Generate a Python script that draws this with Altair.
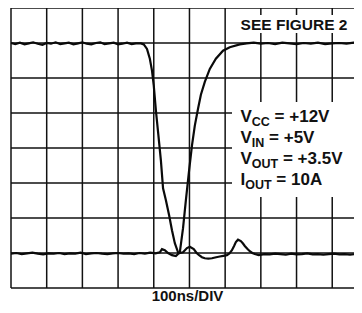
import altair as alt
import pandas as pd

# ---- data (time in ns, 100 ns/div; amplitude in screen divisions, 0..8) ----
grid_t = [0, 100, 200, 300, 400, 500, 600, 700, 800, 900]
grid_v = [0, 1, 2, 3, 4, 5, 6, 7, 8]

# trace falling (high -> low, rings at bottom)
fall_t = [0, 12, 25, 38, 50, 62, 75, 88, 100, 112, 125, 138, 150, 162, 175, 188,
          200, 212, 225, 238, 250, 262, 275, 288, 300, 312, 325, 338, 350, 364,
          372, 381, 389, 395, 400, 406, 413, 420, 426, 434, 443, 451, 459, 468,
          472, 482, 493, 501, 512, 520, 527, 535, 543, 553, 563, 575, 585, 595,
          605, 612, 619, 625, 630, 636, 644, 650, 655, 662, 669, 676, 683, 694,
          710, 725, 740, 755, 770, 785, 800, 815, 830, 845, 860, 875, 890, 905,
          920, 935, 950, 965, 983]
fall_v = [7.00, 6.97, 7.01, 6.96, 6.99, 7.02, 6.98, 6.95, 7.00, 6.98, 7.02, 6.97,
          6.99, 7.01, 6.96, 6.99, 7.02, 6.98, 6.96, 7.00, 7.02, 6.97, 6.99, 7.01,
          6.96, 6.98, 7.01, 6.97, 6.99, 6.99,
          6.96, 6.83, 6.55, 6.21, 5.78, 5.07, 4.36, 3.64, 2.85, 2.51, 2.08, 1.65,
          1.28, 1.02,
          1.00, 1.02, 1.14, 1.18, 1.11, 1.00, 0.94, 0.88, 0.85, 0.84, 0.85, 0.88,
          0.90, 0.92, 0.94, 0.99, 1.08, 1.20, 1.31, 1.38, 1.34, 1.27, 1.20, 1.12,
          1.05, 1.00, 0.97, 0.94,
          0.97, 0.96, 0.98, 0.97, 0.95, 0.98, 0.96, 0.97, 0.99, 0.96, 0.97, 0.95,
          0.97, 0.98, 0.96, 0.97, 0.95, 0.97, 0.96]

# trace rising (low -> high)
rise_t = [0, 15, 30, 45, 60, 75, 90, 105, 120, 135, 150, 165, 180, 195, 210, 225,
          240, 255, 270, 285, 300, 315, 330, 345, 360, 375, 390, 405, 417,
          423, 431, 440, 451, 462, 468, 473, 482, 490, 499, 507, 515, 524, 532,
          543, 557, 574, 594, 613, 641,
          660, 680, 700, 720, 740, 760, 780, 800, 820, 840, 860, 880, 900, 920,
          940, 960, 983]
rise_v = [0.98, 1.00, 0.97, 0.99, 1.01, 0.98, 0.96, 0.99, 0.98, 1.00, 0.97, 0.99,
          0.98, 1.01, 0.97, 0.99, 1.00, 0.98, 0.97, 0.99, 1.00, 0.98, 0.99, 0.97,
          1.00, 0.98, 1.01, 0.99, 1.02,
          1.11, 1.08, 1.00, 0.94, 0.91, 0.97, 1.02, 1.71, 2.51, 3.36, 4.07, 4.64,
          5.12, 5.52, 5.89, 6.26, 6.55, 6.78, 6.88, 6.96,
          6.99, 7.01, 6.98, 7.00, 6.97, 7.01, 6.99, 6.97, 7.00, 6.98, 7.01, 6.97,
          6.99, 7.00, 6.98, 7.01, 6.98]

note_main = ["V", "V", "V", "I"]
note_sub = ["CC", "IN", "OUT", "OUT"]
note_rest = ["= +12V", "= +5V", "= +3.5V", "= 10A"]
see_label = "SEE FIGURE 2"
x_title = "100ns/DIV"

# ---- chart ----
W, H = 343, 280           # plot area: 35.7 px per 100 ns, 35 px per division
FONT = "Liberation Sans"
INK = "#111111"
xs = alt.Scale(domain=[0, 961], nice=False, zero=False)
ys = alt.Scale(domain=[0, 8], nice=False, zero=False)

gx = alt.Chart(pd.DataFrame({"t": grid_t})).mark_rule(color=INK, strokeWidth=1.5).encode(
    x=alt.X("t:Q", scale=xs, axis=None))
gy = alt.Chart(pd.DataFrame({"v": grid_v})).mark_rule(color=INK, strokeWidth=1.5).encode(
    y=alt.Y("v:Q", scale=ys, axis=None))

one = pd.DataFrame({"k": [0]})
box1 = alt.Chart(one).mark_rect(color="white").encode(
    x=alt.value(226), x2=alt.value(341), y=alt.value(7), y2=alt.value(25))
box2 = alt.Chart(one).mark_rect(color="white").encode(
    x=alt.value(221), x2=alt.value(346), y=alt.value(94), y2=alt.value(189))

df_fall = pd.DataFrame({"t": fall_t, "v": fall_v})
df_rise = pd.DataFrame({"t": rise_t, "v": rise_v})
l_fall = alt.Chart(df_fall).mark_line(color="#0a0a0a", strokeWidth=2.2, interpolate="linear").encode(
    x=alt.X("t:Q", scale=xs, axis=None), y=alt.Y("v:Q", scale=ys, axis=None), order="t:Q")
l_rise = alt.Chart(df_rise).mark_line(color="#0a0a0a", strokeWidth=2.2, interpolate="linear").encode(
    x=alt.X("t:Q", scale=xs, axis=None), y=alt.Y("v:Q", scale=ys, axis=None), order="t:Q")

# text width estimates (Arial/Liberation bold advance widths, em)
AW = {"V": .667, "I": .278, "C": .722, "N": .722, "O": .778, "U": .722, "T": .611}
MAIN, SUB = 17, 12.5
X0 = 229.5
Y0, DY = 113.7, 21

texts = []
for i in range(4):
    yb = Y0 + DY * i
    xm = X0
    xsb = xm + sum(AW[c] for c in note_main[i]) * MAIN
    xr = xsb + sum(AW[c] for c in note_sub[i]) * SUB + 0.278 * MAIN
    texts.append(alt.Chart(one).mark_text(text=note_main[i], font=FONT, fontSize=MAIN, fontWeight="bold",
                                          align="left", baseline="alphabetic", color=INK).encode(
        x=alt.value(xm), y=alt.value(yb)))
    texts.append(alt.Chart(one).mark_text(text=note_sub[i], font=FONT, fontSize=SUB, fontWeight="bold",
                                          align="left", baseline="alphabetic", color=INK).encode(
        x=alt.value(xsb), y=alt.value(yb + 3.8)))
    texts.append(alt.Chart(one).mark_text(text=note_rest[i], font=FONT, fontSize=MAIN, fontWeight="bold",
                                          align="left", baseline="alphabetic", color=INK).encode(
        x=alt.value(xr), y=alt.value(yb)))

see = alt.Chart(one).mark_text(text=see_label, font=FONT, fontSize=15.5, fontWeight="bold",
                               align="center", baseline="alphabetic", color=INK).encode(
    x=alt.value(283), y=alt.value(22))
xt = alt.Chart(one).mark_text(text=x_title, font=FONT, fontSize=15, fontWeight="bold",
                              align="center", baseline="alphabetic", color=INK).encode(
    x=alt.value(176.5), y=alt.value(293))

chart = alt.layer(gx, gy, box1, box2, l_fall, l_rise, see, xt, *texts).properties(
    width=W, height=H, padding={"left": 3, "top": 0, "right": 0, "bottom": 17},
    autosize=alt.AutoSizeParams(type="none"),
    background="white"
).configure_view(stroke=None)

chart.save("out.html", embed_options={"renderer": "svg", "actions": False})
